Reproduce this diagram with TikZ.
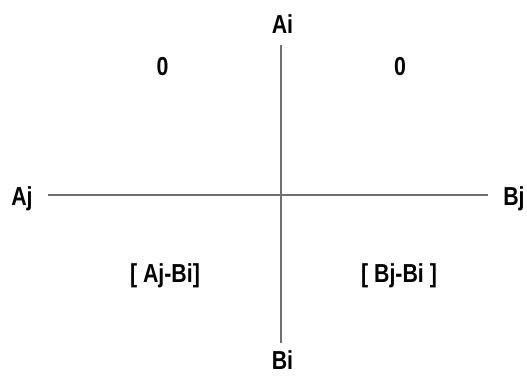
\documentclass[tikz,border=0pt]{standalone}
\usepackage{fontspec}
\setmainfont{Liberation Sans}[FakeStretch=0.82]
\definecolor{axisgray}{HTML}{707070}
\begin{document}
\begin{tikzpicture}[x=1pt,y=-1pt,
  axis/.style={draw=axisgray, line width=2pt},
  lbl/.style={font=\bfseries\fontsize{26}{30}\selectfont, anchor=base, inner sep=0pt, text=black}]
\useasboundingbox (0,0) rectangle (527,375);
\coordinate (top) at (281,45);
\coordinate (bot) at (281,343);
\coordinate (lft) at (48,194.5);
\coordinate (rgt) at (488,194.5);
\draw[axis] (top) -- (bot);
\draw[axis] (lft) -- (rgt);
\node[lbl] (ai) at (282.5,33.5) {Ai};
\node[lbl] (bi) at (282.5,369.5) {Bi};
\node[lbl] (aj) at (22,205) {Aj};
\node[lbl] (bj) at (514,205) {Bj};
\node[lbl] (q1) at (162.5,75.5) {0};
\node[lbl] (q2) at (400,75.5) {0};
\node[lbl] (q3) at (165,282) {[ Aj-Bi]};
\node[lbl] (q4) at (399,282) {[ Bj-Bi ]};
\end{tikzpicture}
\end{document}
